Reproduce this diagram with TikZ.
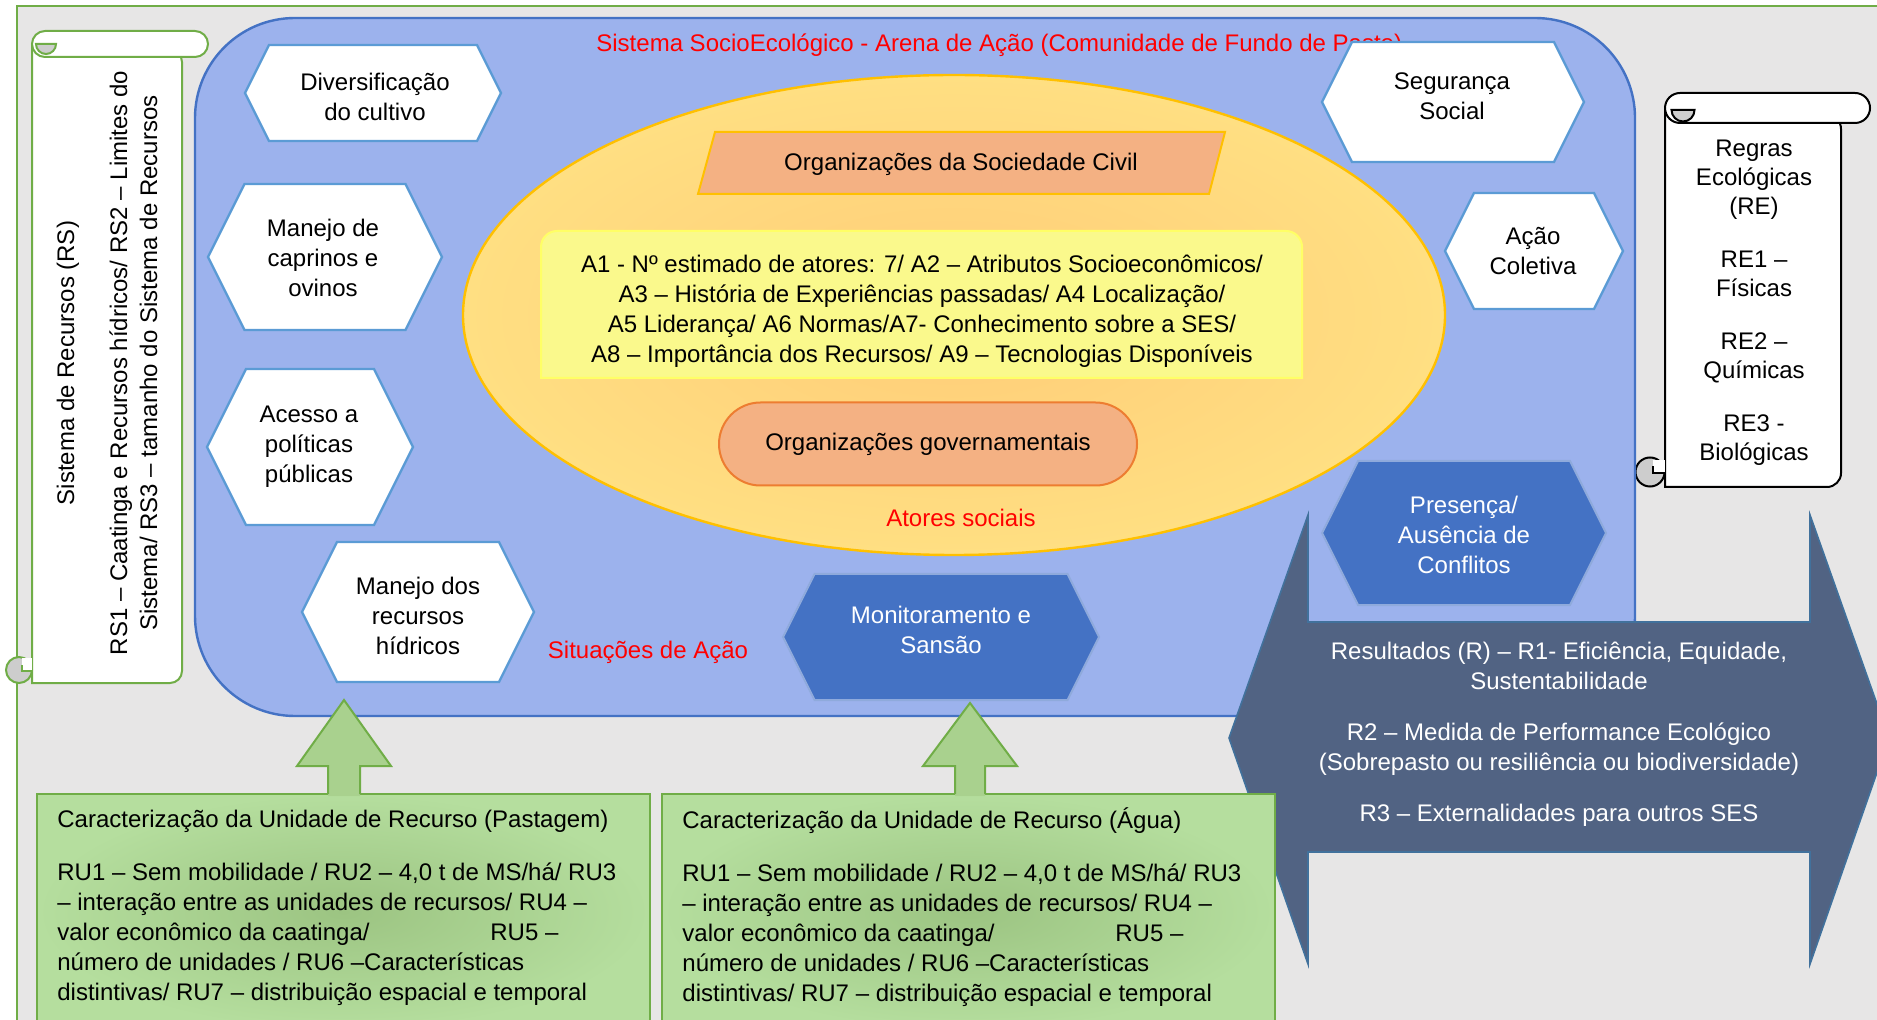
\documentclass[tikz,border=0pt]{standalone}
\usepackage{fontspec}
\setmainfont{Liberation Sans}
\usetikzlibrary{positioning, shapes.misc}

\definecolor{frameGray}{RGB}{231,230,230}
\definecolor{frameGreen}{RGB}{112,173,71}
\definecolor{arenaLight}{RGB}{156,178,237}
\definecolor{arenaDark}{RGB}{136,156,216}
\definecolor{arenaLine}{RGB}{68,114,196}
\definecolor{ellIn}{RGB}{255,204,120}
\definecolor{ellOut}{RGB}{255,223,130}
\definecolor{ellLine}{RGB}{255,192,0}
\definecolor{salmon}{RGB}{244,177,131}
\definecolor{salmonLine}{RGB}{237,125,49}
\definecolor{paleYellow}{RGB}{250,249,140}
\definecolor{paleYellowLine}{RGB}{255,255,102}
\definecolor{hexLine}{RGB}{91,155,213}
\definecolor{hexBlue}{RGB}{68,114,196}
\definecolor{hexBlueLine}{RGB}{143,170,220}
\definecolor{slate}{RGB}{81,99,131}
\definecolor{slateLine}{RGB}{65,113,156}
\definecolor{leafIn}{RGB}{156,196,130}
\definecolor{leafOut}{RGB}{181,222,158}
\definecolor{leafArrow}{RGB}{169,209,142}
\definecolor{curlGray}{RGB}{205,205,205}

% hexagon: style, centre x, centre y, half width, half height
\newcommand\hexa[5]{%
  \filldraw[#1] ({#2-#4},{#3}) -- ({#2-#4+#5/2},{#3-#5}) -- ({#2+#4-#5/2},{#3-#5})
    -- ({#2+#4},{#3}) -- ({#2+#4-#5/2},{#3+#5}) -- ({#2-#4+#5/2},{#3+#5}) -- cycle;}

\begin{document}
\begin{tikzpicture}[x=0.5pt, y=-0.5pt,
    txt/.style={font=\fontsize{12}{15}\selectfont, align=center, inner sep=0pt},
    redtxt/.style={txt, text=red},
    whitetxt/.style={txt, text=white},
    hexwhite/.style={fill=white, draw=hexLine, line width=1.2pt},
    hexdark/.style={fill=hexBlue, draw=hexBlueLine, line width=1pt},
    leaf/.style={draw=frameGreen, line width=1pt, shading=radial, inner color=leafIn, outer color=leafOut},
    uparrow/.style={fill=leafArrow},
    uparrowline/.style={draw=frameGreen, line width=1pt},
    scroll/.style={fill=white, line width=1pt},
    curl/.style={fill=curlGray, line width=1pt}]
    \useasboundingbox (0,0) rectangle (1877,1020);
    \clip (0,0) rectangle (1877,1020);
    % outer frame
    \filldraw[fill=frameGray, draw=frameGreen, line width=1pt] (17,6) rectangle (1900,1040);

    % resource system scroll
    \filldraw[scroll, draw=frameGreen] (32,44) -- (32,683) [rounded corners=6pt] -- (182,683) -- (182,50) [sharp corners] -- cycle;
    \filldraw[scroll, draw=frameGreen, rounded corners=6.5pt] (32,31) rectangle (208,57);
    \filldraw[curl, draw=frameGreen] (36,44) arc (180:0:10) -- cycle;
    \filldraw[curl, draw=frameGreen] (19,670) circle [radius=13];
    \fill[white] (22,658) rectangle (32,671);
    \draw[frameGreen, line width=1pt] (32,671) -- (22,671) -- (22,665);

    \node[txt, rotate=90] (rs) at (107,363) {Sistema de Recursos (RS)\\[11.5pt]RS1 – Caatinga e Recursos hídricos/ RS2 – Limites do\\Sistema/ RS3 – tamanho do Sistema de Recursos};

    % ecological rules scroll
    \filldraw[scroll, draw=black] (1665,108) -- (1665,487) [rounded corners=7pt] -- (1841,487) -- (1841,115) [sharp corners] -- cycle;
    \filldraw[scroll, draw=black, rounded corners=7.5pt] (1665,93) rectangle (1870,123);
    \filldraw[curl, draw=black] (1671.5,110) arc (180:0:11.5) -- cycle;
    \filldraw[curl, draw=black] (1650,472) circle [radius=14.5];
    \fill[white] (1653,460) rectangle (1665,473);
    \draw[black, line width=1pt] (1665,473) -- (1653,473) -- (1653,466);
    \node[txt, font=\fontsize{12}{14.5}\selectfont] (regras) at (1754,302.5) {Regras\\Ecológicas\\(RE)\\[12pt]RE1 –\\Físicas\\[12pt]RE2 –\\Químicas\\[12pt]RE3 -\\Biológicas};

    % action arena
    \draw[arenaLine, line width=1.2pt, left color=arenaLight, middle color=arenaDark, right color=arenaLight, rounded corners=50pt] (195,18) rectangle (1635,716);
    \node[redtxt, anchor=west] (title) at (596,45) {Sistema SocioEcológico - Arena de Ação (Comunidade de Fundo de Pasto)};

    % social actors
    \draw[ellLine, line width=1.2pt, shading=radial, inner color=ellIn, outer color=ellOut] (954,315) ellipse [x radius=491, y radius=240];
    \filldraw[fill=salmon, draw=ellLine, line width=1pt] (698,194) -- (715,132) -- (1225,132) -- (1209,194) -- cycle;
    \node[txt] (civil) at (961,164) {Organizações da Sociedade Civil};
    \filldraw[fill=paleYellow, draw=paleYellowLine, line width=1pt] (541,378) -- (541,300) [rounded corners=8pt] -- (541,231) -- (1302,231) -- (1302,300) [sharp corners] -- (1302,378) -- cycle;
    \node[txt] (atributos) at (922,311.5) {A1 - Nº estimado de atores: 7/ A2 – Atributos Socioeconômicos/\\A3 – História de Experiências passadas/ A4 Localização/\\A5 Liderança/ A6 Normas/A7- Conhecimento sobre a SES/\\A8 – Importância dos Recursos/ A9 – Tecnologias Disponíveis};
    \node[txt, rounded rectangle, fill=salmon, draw=salmonLine, line width=1pt, minimum width=209pt, minimum height=41.5pt] (gov) at (928,444) {Organizações governamentais};
    \node[redtxt, below=11pt of gov, xshift=16.5pt] (atores) {Atores sociais};
    \node[redtxt] (situacoes) at (648,652) {Situações de Ação};

    % action situations
    \hexa{hexwhite}{373}{93}{128}{48}
    \node[txt] (cultivo) at (375,97) {Diversificação\\do cultivo};
    \hexa{hexwhite}{325}{257}{117}{73}
    \node[txt] (caprinos) at (323,258) {Manejo de\\caprinos e\\ovinos};
    \hexa{hexwhite}{310}{447}{103}{78}
    \node[txt] (politicas) at (309,447) {Acesso a\\políticas\\públicas};
    \hexa{hexwhite}{418}{612}{116}{70}
    \node[txt] (hidricos) at (418,616) {Manejo dos\\recursos\\hídricos};
    \hexa{hexwhite}{1453}{102}{131}{60}
    \node[txt] (seguranca) at (1452,96) {Segurança\\Social};
    \hexa{hexwhite}{1534}{251}{89}{58}
    \node[txt] (coletiva) at (1533,251) {Ação\\Coletiva};
    \hexa{hexdark}{1464}{533}{142}{72}
    \node[whitetxt] (conflitos) at (1464,535) {Presença/\\Ausência de\\Conflitos};
    \hexa{hexdark}{941}{637}{158}{63}
    \node[whitetxt] (monit) at (941,630) {Monitoramento e\\Sansão};

    % outcomes
    \filldraw[fill=slate, draw=slateLine, line width=0.8pt] (1229,738) -- (1308,515) -- (1308,622) -- (1810,622) -- (1810,515) -- (1889,738) -- (1810,964) -- (1810,852) -- (1308,852) -- (1308,964) -- cycle;
    \node[whitetxt] (resultados) at (1559,734) {Resultados (R) – R1- Eficiência, Equidade,\\Sustentabilidade\\[10.5pt]R2 – Medida de Performance Ecológico\\(Sobrepasto ou resiliência ou biodiversidade)\\[10.5pt]R3 – Externalidades para outros SES};

    % resource units
    \draw[leaf] (37,794) rectangle (650,1030);
    \node[txt, align=left, anchor=north west] (pastagem) at (57,810) {Caracterização da Unidade de Recurso (Pastagem)\\[11.2pt]RU1 – Sem mobilidade / RU2 – 4,0 t de MS/há/ RU3\\– interação entre as unidades de recursos/ RU4 –\\\makebox[216.5pt][l]{valor econômico da caatinga/}RU5 –\\número de unidades / RU6 –Características\\distintivas/ RU7 – distribuição espacial e temporal};
    \draw[leaf] (662,794) rectangle (1275,1030);
    \node[txt, align=left, anchor=north west] (agua) at (682,807.5) {Caracterização da Unidade de Recurso (Água)\\[11.2pt]RU1 – Sem mobilidade / RU2 – 4,0 t de MS/há/ RU3\\– interação entre as unidades de recursos/ RU4 –\\\makebox[216.5pt][l]{valor econômico da caatinga/}RU5 –\\número de unidades / RU6 –Características\\distintivas/ RU7 – distribuição espacial e temporal};
    \fill[uparrow] (344,700) -- (391,766) -- (360,766) -- (360,796) -- (328,796) -- (328,766) -- (297,766) -- cycle;
    \draw[uparrowline] (360,794) -- (360,766) -- (391,766) -- (344,700) -- (297,766) -- (328,766) -- (328,794);
    \fill[uparrow] (970,703) -- (1017,766) -- (985,766) -- (985,796) -- (955,796) -- (955,766) -- (923,766) -- cycle;
    \draw[uparrowline] (985,794) -- (985,766) -- (1017,766) -- (970,703) -- (923,766) -- (955,766) -- (955,794);
\end{tikzpicture}
\end{document}
